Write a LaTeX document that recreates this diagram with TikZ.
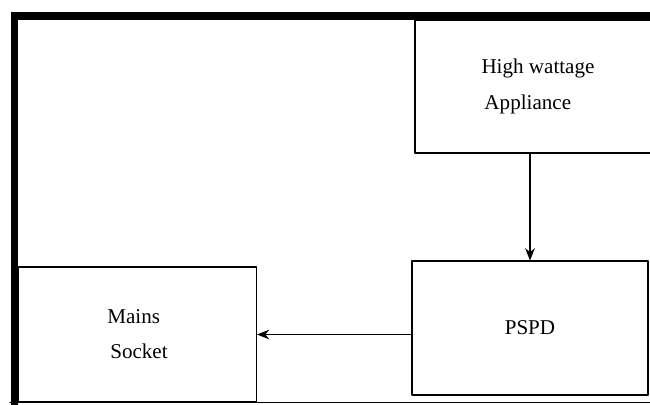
\documentclass[tikz,border=0pt]{standalone}
\usepackage{fontspec}
\setmainfont{Liberation Serif}
\usetikzlibrary{arrows.meta}

\begin{document}
\begin{tikzpicture}[line cap=round, line join=round, >={Stealth[length=7pt, width=5.5pt]}, x=0.02cm, y=-0.02cm,
    box/.style={draw, line width=0.6pt, align=left, font=\fontsize{12}{20}\selectfont}]
    \useasboundingbox (0,0) rectangle (650,405);
    \clip (0,0) rectangle (650,405);
    \draw [line width=0.155cm, line cap=butt, line join=miter] (14.5,408) -- (14.5,16) -- (665,16);
    \draw [line width=0.6pt] (10,402.5) -- (665,402.5);
    \node [box, minimum width=4.92cm, minimum height=2.66cm] (app) at (538,86.5) {High wattage\\\hspace*{1.7pt}Appliance};
    \node [box, minimum width=4.72cm, minimum height=2.68cm] (pspd) at (530,328) {PSPD};
    \node [box, minimum width=4.76cm, minimum height=2.7cm] (mains) at (137.5,334.5) {Mains\\\hspace*{1.7pt}Socket};
    \draw [->, line width=0.6pt] (pspd.north |- app.south) -- (pspd.north);
    \draw [->, line width=0.6pt] (pspd.west |- mains.east) -- (mains.east);
\end{tikzpicture}
\end{document}
